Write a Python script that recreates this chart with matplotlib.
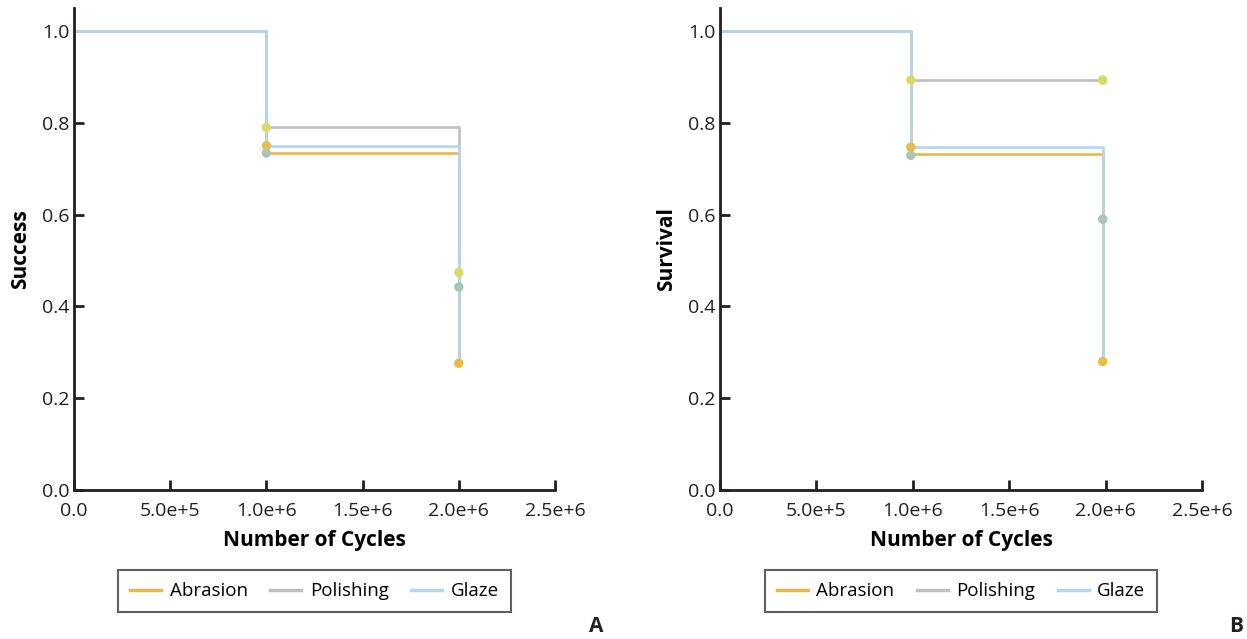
import matplotlib
matplotlib.use("Agg")
import matplotlib.pyplot as plt
import matplotlib.transforms as mtransforms
from matplotlib.ticker import FuncFormatter
from matplotlib.lines import Line2D

plt.rcParams["font.family"] = ["Open Sans", "DejaVu Sans"]

series = ["Abrasion", "Polishing", "Glaze"]
line_colors = ["#E8B94A", "#BFBFC1", "#B5D5EE"]

# panel A: success
cycles_a = [0, 1.0e6, 2.0e6]
success = {
    "Abrasion": [1.0, 0.734, 0.276],
    "Polishing": [1.0, 0.790, 0.474],
    "Glaze": [1.0, 0.750, 0.276],
}
marks_a_x = [1.0e6, 1.0e6, 1.0e6, 2.0e6, 2.0e6, 2.0e6]
marks_a_y = [0.790, 0.750, 0.734, 0.474, 0.442, 0.276]

# panel B: survival
cycles_b = [0, 0.99e6, 1.985e6]
survival = {
    "Abrasion": [1.0, 0.733, 0.280],
    "Polishing": [1.0, 0.893, 0.893],
    "Glaze": [1.0, 0.747, 0.280],
}
marks_b_x = [0.99e6, 1.985e6, 0.99e6, 0.99e6, 1.985e6, 1.985e6]
marks_b_y = [0.893, 0.893, 0.747, 0.729, 0.590, 0.280]

# dot colours, same order as the marks above
mark_colors_a = ["#D6DD5E", "#EBBC45", "#A6C6B6", "#D6DD5E", "#A6C6B6", "#EBBC45"]
mark_colors_b = ["#D6DD5E", "#D6DD5E", "#EBBC45", "#A6C6B6", "#A6C6B6", "#EBBC45"]

x_ticks = [0, 5e5, 1e6, 1.5e6, 2e6, 2.5e6]
y_ticks = [0.0, 0.2, 0.4, 0.6, 0.8, 1.0]


def fmt_x(v, pos):
    if v == 0:
        return "0.0"
    exp = len(str(int(v))) - 1
    return "%.1fe+%d" % (v / 10 ** exp, exp)


def draw_panel(ax, cycles, data, mx, my, mc, ylabel):
    for name, col in zip(series, line_colors):
        ax.step(cycles, data[name], where="post", color=col, lw=1.9, zorder=2)
    ax.scatter(mx, my, s=46, c=mc, zorder=3, linewidths=0)
    ax.set_xlim(0, 2.5e6)
    ax.set_ylim(0, 1.05)
    ax.set_xticks(x_ticks)
    ax.set_yticks(y_ticks)
    ax.xaxis.set_major_formatter(FuncFormatter(fmt_x))
    ax.yaxis.set_major_formatter(FuncFormatter(lambda v, p: "%.1f" % v))
    for s in ["top", "right"]:
        ax.spines[s].set_visible(False)
    for s in ["left", "bottom"]:
        ax.spines[s].set_linewidth(2)
        ax.spines[s].set_color("#231F20")
    ax.tick_params(direction="in", length=7, width=2, color="#231F20",
                   labelsize=14, labelcolor="#231F20", pad=3)
    ax.tick_params(axis="x", pad=9)
    ax.set_xlabel("Number of Cycles", fontsize=15, fontweight="bold", labelpad=7)
    ax.set_ylabel(ylabel, fontsize=15, fontweight="bold", labelpad=8)
    handles = [Line2D([0], [0], color=c, lw=2.5) for c in line_colors]
    trans = mtransforms.blended_transform_factory(ax.transAxes, fig.transFigure)
    leg = ax.legend(handles, series, loc="upper center", ncol=3,
                    bbox_to_anchor=(0.5, 69 / 639), bbox_transform=trans,
                    fancybox=False, fontsize=13.5, handlelength=1.65,
                    columnspacing=1.2, borderpad=0.65, handletextpad=0.45,
                    borderaxespad=0)
    leg.get_frame().set_edgecolor("#3A3A3A")
    leg.get_frame().set_linewidth(1.5)


fig = plt.figure(figsize=(12.47, 6.39), dpi=100)
ax1 = fig.add_axes([74 / 1247, 149 / 639, 481 / 1247, 482 / 639])
ax2 = fig.add_axes([720 / 1247, 149 / 639, 482 / 1247, 482 / 639])

draw_panel(ax1, cycles_a, success, marks_a_x, marks_a_y, mark_colors_a, "Success")
draw_panel(ax2, cycles_b, survival, marks_b_x, marks_b_y, mark_colors_b, "Survival")

for letter, xp in [("A", 596), ("B", 1236)]:
    fig.text(xp / 1247, 13 / 639, letter, fontsize=15, fontweight="bold",
             ha="center", va="center", color="#231F20")

fig.savefig("out.png", dpi=100)
